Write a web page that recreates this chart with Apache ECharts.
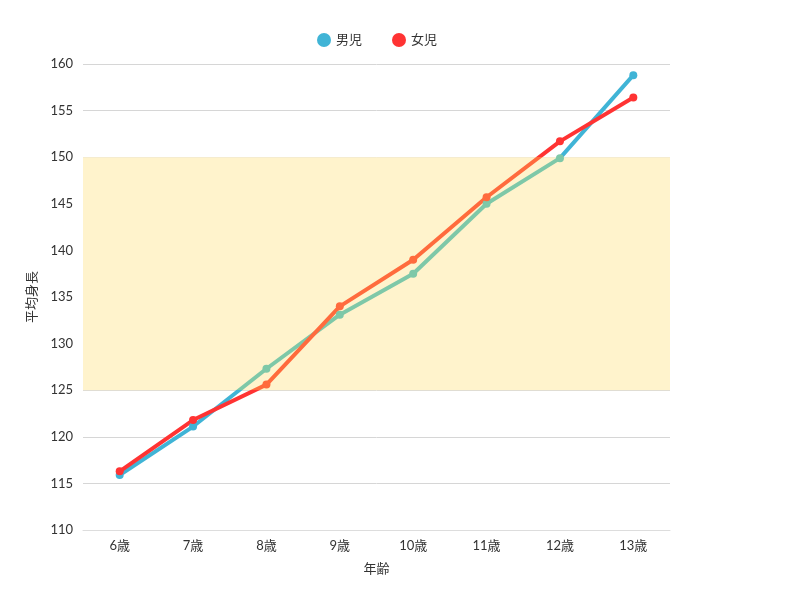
<!DOCTYPE html>
<html><head><meta charset="utf-8">
<script src="https://cdn.jsdelivr.net/npm/echarts@6/dist/echarts.min.js"></script>
<style>html,body{margin:0;padding:0;background:#fff}#c{width:800px;height:600px}</style>
</head><body><div id="c"></div>
<script>
const categories = ['6歳','7歳','8歳','9歳','10歳','11歳','12歳','13歳'];
const boys = [115.9, 121.1, 127.3, 133.1, 137.5, 145.0, 149.9, 158.8];
const girls = [116.3, 121.8, 125.6, 134.0, 139.0, 145.7, 151.7, 156.4];
const seriesNames = ['男児','女児'];
const rangeLow = 125, rangeHigh = 150;

const chart = echarts.init(document.getElementById('c'));
const font = 'Lato, "Noto Sans CJK JP", sans-serif';
chart.setOption({
  textStyle:{fontFamily:font},
  legend:{top:28, left:312, itemWidth:14, itemHeight:14, itemGap:30, icon:'circle',
    textStyle:{fontSize:13, color:'#333', fontFamily:font},
    data:seriesNames},
  grid:{left:83, right:130, top:64, bottom:70},
  xAxis:{type:'category', data:categories, boundaryGap:true,
    name:'年齢', nameLocation:'middle', nameGap:32,
    nameTextStyle:{fontSize:13,color:'#333'},
    axisLine:{lineStyle:{color:'#ddd'}}, axisTick:{show:false},
    axisLabel:{color:'#333', fontSize:13, margin:9}},
  yAxis:{type:'value', min:110, max:160, interval:5,
    name:'平均身長', nameLocation:'middle', nameGap:45,
    nameTextStyle:{fontSize:13,color:'#333'},
    axisLine:{show:false}, axisTick:{show:false},
    axisLabel:{color:'#333', fontSize:13, margin:10},
    splitLine:{lineStyle:{color:'#d6d6d6'}}},
  visualMap:[
    {show:false, seriesIndex:0, dimension:1, pieces:[{gt:rangeLow, lte:rangeHigh, color:'#7ec8a8'}], outOfRange:{color:'#40b4d6'}},
    {show:false, seriesIndex:1, dimension:1, pieces:[{gt:rangeLow, lte:rangeHigh, color:'#ff6b3d'}], outOfRange:{color:'#ff3333'}}
  ],
  series:[
    {name:seriesNames[0], type:'line', data:boys, symbol:'circle', symbolSize:8,
      itemStyle:{color:'#40b4d6'}, lineStyle:{width:4},
      markArea:{silent:true, itemStyle:{color:'#fff3cc'}, data:[[{yAxis:rangeLow},{yAxis:rangeHigh}]]}},
    {name:seriesNames[1], type:'line', data:girls, symbol:'circle', symbolSize:8,
      itemStyle:{color:'#ff3333'}, lineStyle:{width:4}}
  ]
});
</script></body></html>
